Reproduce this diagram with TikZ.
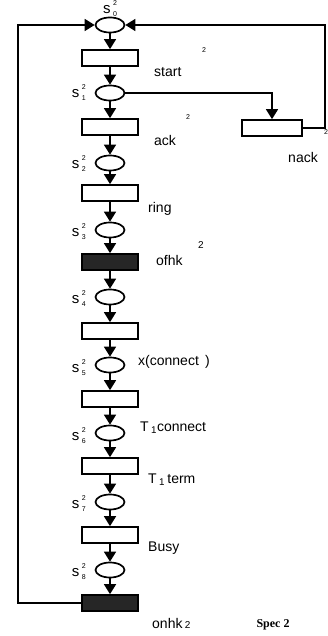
\documentclass[tikz,border=0pt]{standalone}
\usepackage{fontspec}
\setmainfont{Liberation Sans}
\newfontfamily\specfont{Liberation Serif}
\usetikzlibrary{arrows.meta,shapes.geometric}
\begin{document}
\begin{tikzpicture}[x=1pt,y=-1pt,
  place/.style={draw,ellipse,line width=1.7pt,minimum width=29pt,minimum height=15pt,inner sep=0pt},
  trans/.style={draw,rectangle,line width=1.7pt,minimum width=56pt,minimum height=16pt,inner sep=0pt},
  darktrans/.style={trans,fill=black!85},
  arc/.style={line width=1.6pt,-{Triangle[length=10pt,width=12pt]}},
  lbl/.style={font=\fontsize{14}{16}\selectfont,inner sep=0pt,anchor=west},
  slbl/.style={font=\fontsize{15}{16}\selectfont,inner sep=0pt,anchor=east},
  tiny2/.style={font=\fontsize{7}{8}\selectfont,inner sep=0pt}]
\useasboundingbox (0,0) rectangle (328,636);
\newcommand{\sst}[1]{s\,\raisebox{-3.5pt}{\fontsize{7}{11}\selectfont\begin{tabular}[b]{@{}c@{}}2\\#1\end{tabular}}}
% places
\node[place] (s0) at (110,25) {};
\node[place] (s1) at (110,93) {};
\node[place] (s2) at (110,163) {};
\node[place] (s3) at (110,230) {};
\node[place] (s4) at (110,297) {};
\node[place] (s5) at (110,365) {};
\node[place] (s6) at (110,433) {};
\node[place] (s7) at (110,502) {};
\node[place] (s8) at (110,570) {};
% transitions
\node[trans] (t0) at (110,58) {};
\node[trans] (t1) at (110,127) {};
\node[trans] (t2) at (110,193) {};
\node[darktrans] (t3) at (110,262) {};
\node[trans] (t4) at (110,331) {};
\node[trans] (t5) at (110,399) {};
\node[trans] (t6) at (110,466) {};
\node[trans] (t7) at (110,535) {};
\node[darktrans] (t8) at (110,603) {};
\node[trans,minimum width=60pt] (tn) at (272,128) {};
% main column
\draw[arc] (s0) -- (t0);
\draw[arc] (t0) -- (s1);
\draw[arc] (s1) -- (t1);
\draw[arc] (t1) -- (s2);
\draw[arc] (s2) -- (t2);
\draw[arc] (t2) -- (s3);
\draw[arc] (s3) -- (t3);
\draw[arc] (t3) -- (s4);
\draw[arc] (s4) -- (t4);
\draw[arc] (t4) -- (s5);
\draw[arc] (s5) -- (t5);
\draw[arc] (t5) -- (s6);
\draw[arc] (s6) -- (t6);
\draw[arc] (t6) -- (s7);
\draw[arc] (s7) -- (t7);
\draw[arc] (t7) -- (s8);
\draw[arc] (s8) -- (t8);
% nack branch
\coordinate (c1) at (272,93);
\coordinate (c2) at (325,128);
\coordinate (c3) at (325,25);
\draw[arc] (s1.east) -- (c1) -- (tn.north);
\draw[arc] (tn.east) -- (c2) -- (c3) -- (s0.east);
% return loop
\coordinate (c4) at (18,603);
\coordinate (c5) at (18,25);
\draw[arc] (t8.west) -- (c4) -- (c5) -- (s0.west);
% place labels
\node[inner sep=0pt,font=\fontsize{15}{16}\selectfont] (l0) at (110,9) {\sst{0}};
\node[slbl] (l1) at (86,93) {\sst{1}};
\node[slbl] (l2) at (86,164) {\sst{2}};
\node[slbl] (l3) at (86,232) {\sst{3}};
\node[slbl] (l4) at (86,299) {\sst{4}};
\node[slbl] (l5) at (86,368) {\sst{5}};
\node[slbl] (l6) at (86,436) {\sst{6}};
\node[slbl] (l7) at (86,504) {\sst{7}};
\node[slbl] (l8) at (86,572) {\sst{8}};
% transition labels
\node[lbl] (n0) at (154,72) {start};
\node[lbl] (n1) at (154,140) {ack};
\node[lbl] (n2) at (148,209) {ring};
\node[lbl] (n3) at (156,260) {ofhk};
\node[tiny2,font=\fontsize{10}{11}\selectfont] (n3s) at (201,245) {2};
\node[lbl] (n4) at (138,362) {x(connect\, )};
\node[lbl] (n5) at (140,428) {T\,\textsubscript{1}connect};
\node[lbl] (n6) at (148,480) {T\,\textsubscript{1}\,term};
\node[lbl] (n7) at (148,548) {Busy};
\node[lbl] (n8) at (152,623) {onhk\,\fontsize{10}{11}\selectfont 2};
\node[inner sep=0pt,font=\fontsize{14}{16}\selectfont] (nn) at (303,157) {nack};
\node[tiny2] (a1) at (204,50) {2};
\node[tiny2] (a2) at (188,117) {2};
\node[tiny2] (a3) at (326,132) {2};
\node[inner sep=0pt,font=\specfont\bfseries\fontsize{12}{13}\selectfont] (spec) at (273,625) {Spec 2};
\end{tikzpicture}
\end{document}
